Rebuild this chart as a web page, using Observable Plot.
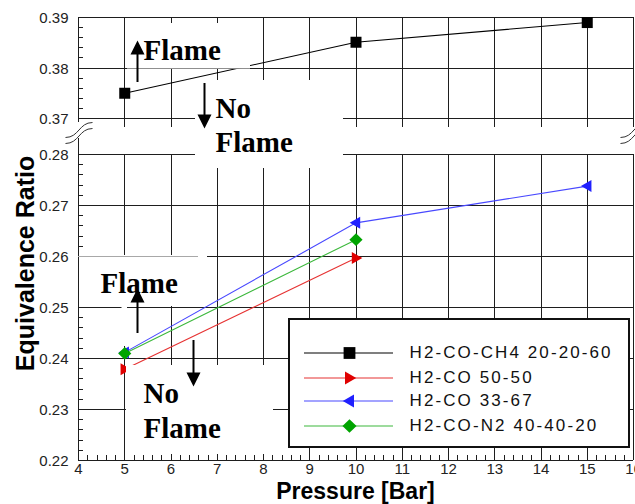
<!DOCTYPE html>
<html><head><meta charset="utf-8">
<script src="https://cdn.jsdelivr.net/npm/d3@7"></script>
<script src="https://cdn.jsdelivr.net/npm/@observablehq/plot@0.6"></script>
<style>
body{margin:0;background:#fff;}
#chart{width:635px;height:504px;overflow:hidden;}
</style>
</head><body><div id="chart"></div>
<script>
// ---------- data ----------
const seriesNames = ["H2-CO-CH4 20-20-60", "H2-CO 50-50", "H2-CO 33-67", "H2-CO-N2 40-40-20"];
const pressureCH4 = [5, 10, 15];
const phiCH4 = [0.375, 0.3851, 0.389];
const pressure5050 = [5, 10];
const phi5050 = [0.2379, 0.2597];
const pressure3367 = [5, 10, 15];
const phi3367 = [0.2412, 0.2666, 0.2738];
const pressureN2 = [5, 10];
const phiN2 = [0.241, 0.2633];
const xTickValues = [4, 5, 6, 7, 8, 9, 10, 11, 12, 13, 14, 15, 16];
const xTickLabels = ["4", "5", "6", "7", "8", "9", "10", "11", "12", "13", "14", "15", "16"];
const yTickValues = [0.39, 0.38, 0.37, 0.28, 0.27, 0.26, 0.25, 0.24, 0.23, 0.22];
const yTickLabels = ["0.39", "0.38", "0.37", "0.28", "0.27", "0.26", "0.25", "0.24", "0.23", "0.22"];
const xTitle = "Pressure [Bar]";
const yTitle = "Equivalence Ratio";
const flameText = "Flame";
const noText = "No";

// ---------- styles ----------
const markerColors = ["#000000", "#e00000", "#2020ff", "#00a400"];
const lineColors = ["#000000", "#e63232", "#4848ff", "#3cb83c"];
const SANS = "'Liberation Sans', Arial, sans-serif";
const SERIF = "'Liberation Serif', 'Times New Roman', serif";
const GRID = "#1e1e1e";

// ---------- scales (broken y axis via piecewise scale) ----------
const X_DOMAIN = [4, 16], X_RANGE = [78, 633];
const Y_DOMAIN = [0.22, 0.28, 0.37, 0.39], Y_RANGE = [460, 154, 118, 17];
const ix = d3.scaleLinear(X_RANGE, X_DOMAIN);   // px -> data (for annotations)
const iy = d3.scaleLinear(Y_RANGE, Y_DOMAIN);

// ---------- symbols ----------
const sym = (pts) => ({draw(ctx, size) {
  const r = Math.sqrt(size / Math.PI);
  ctx.moveTo(pts[0][0] * r, pts[0][1] * r);
  for (let i = 1; i < pts.length; i++) ctx.lineTo(pts[i][0] * r, pts[i][1] * r);
  ctx.closePath();
}});
const SQUARE = sym([[-1, -1], [1, -1], [1, 1], [-1, 1]]);
const TRI_RIGHT = sym([[1.05, 0], [-0.7, -1], [-0.7, 1]]);
const TRI_LEFT = sym([[-1.05, 0], [0.7, -1], [0.7, 1]]);
const DIAMOND = sym([[0, -1.05], [1.1, 0], [0, 1.05], [-1.1, 0]]);
const HEAD_UP = sym([[0, 0], [1, 2], [-1, 2]]);
const HEAD_DOWN = sym([[0, 0], [1, -2], [-1, -2]]);

const series = [
  {x: pressureCH4, y: phiCH4, symbol: SQUARE, r: 5.5},
  {x: pressure5050, y: phi5050, symbol: TRI_RIGHT, r: 6},
  {x: pressure3367, y: phi3367, symbol: TRI_LEFT, r: 6},
  {x: pressureN2, y: phiN2, symbol: DIAMOND, r: 6}
];
const rowsOf = (s) => s.x.map((x, i) => ({x, y: s.y[i]}));

// ---------- layout (pixels) ----------
const masksPx = [
  [127, 250, 23, 68.5],
  [195, 343, 80, 168],
  [79, 207, 255, 306],
  [121.5, 127, 306, 346],
  [126, 273, 365, 454]
];
const legendBoxPx = [289, 629, 319, 447];
const legendRowsPx = [352.5, 377.5, 400.5, 425.5];
const arrowsPx = [
  {x: 137, tail: 82, tip: 40, up: true},
  {x: 204, tail: 83, tip: 128, up: false},
  {x: 137, tail: 333, tip: 288, up: true},
  {x: 193, tail: 340, tip: 386, up: false}
];
const labelsPx = [
  {t: flameText, x: 143, base: 60},
  {t: noText, x: 215, base: 118},
  {t: flameText, x: 215, base: 152},
  {t: flameText, x: 100, base: 293},
  {t: noText, x: 143, base: 403},
  {t: flameText, x: 143, base: 438}
];
const breaksPx = [
  [65, 137, 92, 122], [65, 143, 92, 128],
  [620, 137, 647, 122], [620, 143, 647, 128]
];

// ---------- ticks ----------
const majorX = xTickValues.slice(1);
const minorX = d3.range(4, 16.001, 0.2).filter(v => Math.abs(v - Math.round(v)) > 1e-6);
const minorY = [...d3.range(0.372, 0.3899, 0.002), ...d3.range(0.222, 0.2799, 0.002)]
  .filter(v => Math.abs(v * 100 - Math.round(v * 100)) > 1e-6);

const marks = [];
// grid
marks.push(Plot.ruleY(yTickValues, {x1: 4, x2: 16, stroke: GRID, shapeRendering: "crispEdges"}));
marks.push(Plot.ruleX(majorX, {y1: 0.39, y2: iy(127), stroke: GRID, shapeRendering: "crispEdges"}));
marks.push(Plot.ruleX(majorX, {y1: 0.22, y2: 0.28, stroke: GRID, shapeRendering: "crispEdges"}));
marks.push(Plot.ruleX([4], {y1: 0.39, y2: iy(122), stroke: GRID, shapeRendering: "crispEdges"}));
marks.push(Plot.ruleX([4], {y1: iy(138), y2: 0.22, stroke: GRID, shapeRendering: "crispEdges"}));
marks.push(Plot.ruleY(minorY, {x1: 4, x2: ix(82.5), stroke: GRID, shapeRendering: "crispEdges"}));
marks.push(Plot.ruleX(minorX, {y1: 0.22, y2: iy(455), stroke: GRID, shapeRendering: "crispEdges"}));
// break marks
marks.push(Plot.link(breaksPx, {x1: d => ix(d[0]), y1: d => iy(d[1]), x2: d => ix(d[2]), y2: d => iy(d[3]), curve: "bump-x", stroke: "#333", strokeWidth: 1}));
// data lines + markers
series.forEach((s, i) => {
  marks.push(Plot.line(rowsOf(s), {x: "x", y: "y", stroke: lineColors[i], strokeWidth: 1.1}));
});
series.forEach((s, i) => {
  marks.push(Plot.dot(rowsOf(s), {x: "x", y: "y", symbol: s.symbol, r: s.r, fill: markerColors[i], stroke: "none"}));
});
// white boxes behind labels
marks.push(Plot.rect(masksPx, {x1: d => ix(d[0]), x2: d => ix(d[1]), y1: d => iy(d[2]), y2: d => iy(d[3]), fill: "white"}));
marks.push(Plot.ruleY([0.26], {x1: 4, x2: ix(198), stroke: "#a8a8a8", shapeRendering: "crispEdges"}));
// annotations
marks.push(Plot.text(labelsPx, {x: d => ix(d.x), y: d => iy(d.base - 9.3), text: "t", textAnchor: "start", fontFamily: SERIF, fontWeight: "bold", fontSize: 29, fill: "#000"}));
marks.push(Plot.ruleX(arrowsPx, {x: d => ix(d.x), y1: d => iy(d.tail), y2: d => iy(d.up ? d.tip + 12 : d.tip - 12), stroke: "#000", strokeWidth: 2}));
marks.push(Plot.dot(arrowsPx.filter(d => d.up), {x: d => ix(d.x), y: d => iy(d.tip), symbol: HEAD_UP, r: 7, fill: "#000", stroke: "none"}));
marks.push(Plot.dot(arrowsPx.filter(d => !d.up), {x: d => ix(d.x), y: d => iy(d.tip), symbol: HEAD_DOWN, r: 7, fill: "#000", stroke: "none"}));
// legend
const [lx1, lx2, ly1, ly2] = legendBoxPx;
marks.push(Plot.rect([0], {x1: ix(lx1), x2: ix(lx2), y1: iy(ly1), y2: iy(ly2), fill: "white", stroke: "#111", strokeWidth: 1.2, shapeRendering: "crispEdges"}));
series.forEach((s, i) => {
  const yy = iy(legendRowsPx[i]);
  marks.push(Plot.ruleY([yy], {x1: ix(304), x2: ix(393), stroke: lineColors[i], strokeWidth: 1.1}));
  marks.push(Plot.dot([0], {x: ix(349), y: yy, symbol: s.symbol, r: s.r + 0.4, fill: markerColors[i], stroke: "none"}));
});
marks.push(Plot.text(seriesNames, {x: ix(409), y: (d, i) => iy(legendRowsPx[i]), text: d => d, textAnchor: "start", fontFamily: SANS, fontSize: 17, fill: "#111"}));
// tick labels
marks.push(Plot.text(yTickValues, {x: 4, y: d => d, text: (d, i) => yTickLabels[i], dx: -10, dy: 1, textAnchor: "end", fontFamily: SANS, fontSize: 15, fill: "#222"}));
marks.push(Plot.text(xTickValues, {x: d => d, y: 0.22, text: (d, i) => xTickLabels[i], dy: 9, textAnchor: "middle", fontFamily: SANS, fontSize: 15, fill: "#222"}));
// axis titles
marks.push(Plot.text([xTitle], {x: ix(355), y: iy(491.6), text: d => d, fontFamily: SANS, fontWeight: "bold", fontSize: 23, fill: "#000"}));
marks.push(Plot.text([yTitle], {x: ix(25), y: iy(263), text: d => d, rotate: -90, fontFamily: SANS, fontWeight: "bold", fontSize: 25, fill: "#000"}));

const chart = Plot.plot({
  width: 635,
  height: 504,
  margin: 0,
  style: {background: "#fff", overflow: "hidden"},
  x: {type: "linear", domain: X_DOMAIN, range: X_RANGE, axis: null},
  y: {type: "linear", domain: Y_DOMAIN, range: Y_RANGE, axis: null},
  marks
});
// widen legend labels to the spacing of the reference
d3.select(chart).selectAll("text")
  .filter(function () { return seriesNames.includes(this.textContent); })
  .style("letter-spacing", "2.1px");
document.getElementById("chart").appendChild(chart);
</script>
</body></html>
